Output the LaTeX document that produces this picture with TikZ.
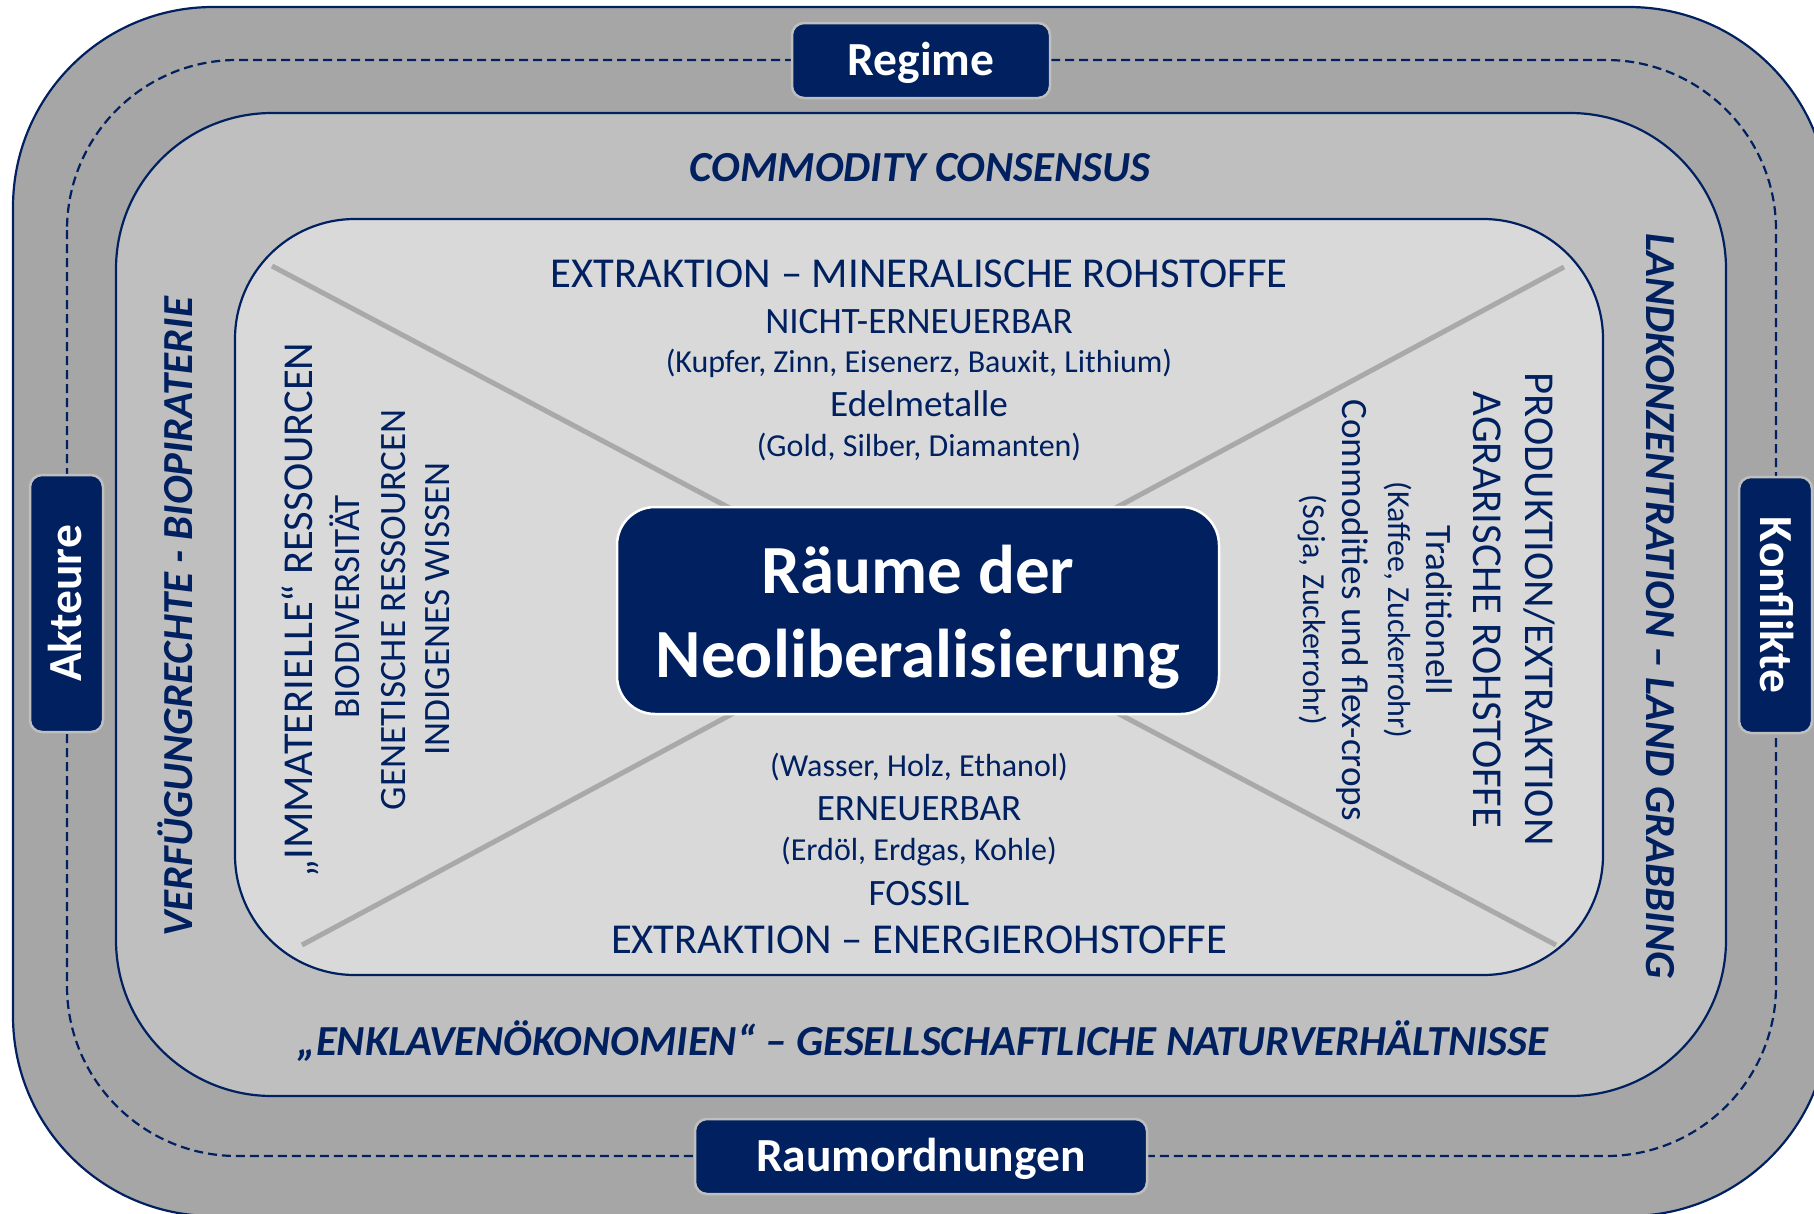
\documentclass[tikz,border=0pt]{standalone}
\usepackage{fontspec}
\setmainfont{Carlito}
\definecolor{navy}{HTML}{002060}
\definecolor{ringouter}{HTML}{A6A6A6}
\definecolor{ringmid}{HTML}{BFBFBF}
\definecolor{ringinner}{HTML}{D9D9D9}
\definecolor{crossline}{HTML}{A9A9A9}
\definecolor{tagedge}{HTML}{BFBFBF}

\begin{document}
\begin{tikzpicture}[x=1pt,y=-1pt,
  frame/.style={draw=navy,line width=2.2pt},
  crossln/.style={draw=crossline,line width=5pt},
  tag/.style={fill=navy,draw=tagedge,line width=2.5pt,rounded corners=12pt,
    text=white,font=\fontsize{47.5}{57}\selectfont\bfseries,
    inner sep=0pt,text height=30pt,text depth=0pt},
  hubbox/.style={fill=navy,draw=white,line width=2.5pt,rounded corners=38pt,inner sep=0pt},
  hubtext/.style={text=white,font=\fontsize{69}{83}\selectfont\bfseries,anchor=base,inner sep=0pt},
  heading/.style={text=navy,font=\fontsize{42.8}{51}\selectfont\bfseries\itshape,anchor=base,inner sep=0pt},
  bigline/.style={text=navy,font=\fontsize{42.6}{51}\selectfont,anchor=base,inner sep=0pt},
  midline/.style={text=navy,font=\fontsize{37.2}{44}\selectfont,anchor=base,inner sep=0pt},
  smallline/.style={text=navy,font=\fontsize{32}{38}\selectfont,anchor=base,inner sep=0pt}
]
\useasboundingbox (0,0) rectangle (1814,1213);

% nested rounded frames
\begin{scope}
  \clip (0,0) rectangle (1814,1213);
  \draw[frame,fill=ringouter,rounded corners=200pt] (13,7) rectangle (1829,1216);
  \draw[navy,line width=2.2pt,dash pattern=on 9pt off 5pt,rounded corners=170pt] (67,60) rectangle (1776,1156);
  \draw[frame,fill=ringmid,rounded corners=156pt] (116,113) rectangle (1726,1096);
  \draw[frame,fill=ringinner,rounded corners=120pt] (235,219) rectangle (1603,975);
\end{scope}

% diagonal cross through the inner field
\coordinate (xtl) at (272,266);
\coordinate (xbr) at (1556,945);
\coordinate (xtr) at (1564,267);
\coordinate (xbl) at (302,945);
\draw[crossln] (xtl) -- (xbr);
\draw[crossln] (xtr) -- (xbl);

% central box
\node[hubbox,minimum width=602pt,minimum height=207pt] (hub) at (918,610.5) {};
\node[hubtext] (hubA) at (918,593.5) {Räume der};
\node[hubtext] (hubB) at (918,677) {Neoliberalisierung};

% labels on the dashed ring
\node[tag,minimum width=258pt,minimum height=75pt] (regime) at (921,60.5) {Regime};
\node[tag,minimum width=452pt,minimum height=75pt] (raum) at (921,1156.5) {Raumordnungen};
\node[tag,minimum width=257pt,minimum height=73pt,rotate=90] (akteure) at (66.5,603.5) {Akteure};
\node[tag,minimum width=256pt,minimum height=73pt,rotate=-90] (konflikte) at (1775.5,605) {Konflikte};

% headings of the middle ring
\node[heading] (cc) at (920,181.6) {COMMODITY CONSENSUS};
\node[heading] (enk) at (923,1055) {„ENKLAVENÖKONOMIEN“ – GESELLSCHAFTLICHE NATURVERHÄLTNISSE};
\node[heading,rotate=90] (verf) at (192,617) {VERFÜGUNGRECHTE - BIOPIRATERIE};
\node[heading,rotate=-90] (land) at (1646,606) {LANDKONZENTRATION – LAND GRABBING};

% top sector
\node[bigline] (t1) at (919,287) {EXTRAKTION – MINERALISCHE ROHSTOFFE};
\node[midline] (t2) at (919,333) {NICHT-ERNEUERBAR};
\node[smallline] (t3) at (919,372.5) {(Kupfer, Zinn, Eisenerz, Bauxit, Lithium)};
\node[midline] (t4) at (919,416.5) {Edelmetalle};
\node[smallline] (t5) at (919,456) {(Gold, Silber, Diamanten)};

% bottom sector
\node[smallline] (b1) at (919,776) {(Wasser, Holz, Ethanol)};
\node[midline] (b2) at (919,820) {ERNEUERBAR};
\node[smallline] (b3) at (919,860) {(Erdöl, Erdgas, Kohle)};
\node[midline] (b4) at (919,905) {FOSSIL};
\node[bigline] (b5) at (919,953) {EXTRAKTION – ENERGIEROHSTOFFE};

% left sector
\node[bigline,rotate=90] (l1) at (312,610) {„IMMATERIELLE“ RESSOURCEN};
\node[midline,rotate=90] (l2) at (359,607) {BIODIVERSITÄT};
\node[midline,rotate=90] (l3) at (405,610) {GENETISCHE RESSOURCEN};
\node[midline,rotate=90] (l4) at (449,609) {INDIGENES WISSEN};

% right sector
\node[bigline,rotate=-90] (r1) at (1525,609) {PRODUKTION/EXTRAKTION};
\node[bigline,rotate=-90] (r2) at (1473,610) {AGRARISCHE ROHSTOFFE};
\node[midline,rotate=-90] (r3) at (1426,610) {Traditionell};
\node[smallline,rotate=-90] (r4) at (1388,610) {(Kaffee, Zuckerrohr)};
\node[midline,rotate=-90] (r5) at (1342,610) {Commodities und flex-crops};
\node[smallline,rotate=-90] (r6) at (1303,610) {(Soja, Zuckerrohr)};
\end{tikzpicture}
\end{document}
